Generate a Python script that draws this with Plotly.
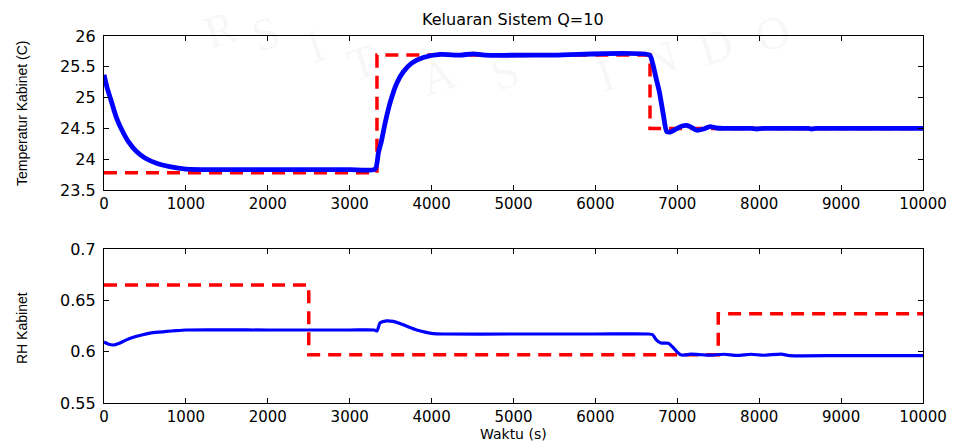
import plotly.graph_objects as go

# ---------------- data ----------------
# Top panel: temperature (setpoint = red dashed, response = blue)
sp_temp_t = [0, 3333, 6667, 10000]
sp_temp_v = [23.78, 25.69, 24.50, 24.50]

temp_t = [0, 40, 80, 150, 220, 300, 400, 500, 650, 800, 1000, 1500, 2000, 2500, 3000, 3310,
          3350, 3390, 3431, 3492, 3573, 3655, 3757, 3899, 4103, 4347, 4509, 4650, 5500, 6660,
          6700, 6740, 6780, 6830, 6870, 6910, 6960, 7010, 7060, 7114, 7170, 7237, 7320, 7399,
          7470, 7560, 7700, 7900, 7970, 8050, 8300, 8600, 8640, 8700, 9000, 10000]
temp_v = [25.37, 25.15, 24.98, 24.68, 24.47, 24.28, 24.12, 24.02, 23.93, 23.88, 23.84, 23.83, 23.83, 23.83, 23.83, 23.84,
          24.10, 24.31, 24.58, 24.91, 25.23, 25.42, 25.56, 25.65, 25.70, 25.69, 25.71, 25.69, 25.69, 25.69,
          25.55, 25.32, 25.10, 24.72, 24.45, 24.44, 24.47, 24.51, 24.54, 24.55, 24.52, 24.47, 24.49, 24.53,
          24.51, 24.50, 24.50, 24.50, 24.49, 24.50, 24.50, 24.50, 24.49, 24.50, 24.50, 24.50]

# Bottom panel: relative humidity
sp_rh_t = [0, 2500, 7500, 10000]
sp_rh_v = [0.665, 0.597, 0.637, 0.637]

rh_t = [0, 50, 114, 180, 260, 358, 460, 562, 665, 765, 880, 1000, 2000, 3000, 3300, 3335,
        3370, 3450, 3530, 3614, 3720, 3818, 3920, 4021, 4150, 5000, 6000, 6650, 6700, 6740,
        6800, 6890, 6950, 7000, 7040, 7100, 7160, 7300, 7400, 7570, 7730, 7900, 8050, 8270,
        8370, 9000, 10000]
rh_v = [0.6095, 0.6075, 0.6065, 0.6080, 0.6110, 0.6140, 0.6162, 0.6180, 0.6190, 0.6197, 0.6205, 0.6211, 0.6211, 0.6211, 0.6211, 0.6203,
        0.6280, 0.6300, 0.6295, 0.6275, 0.6240, 0.6211, 0.6190, 0.6175, 0.6172, 0.6172, 0.6172, 0.6172, 0.6165, 0.6118,
        0.6085, 0.6082, 0.6040, 0.5995, 0.5970, 0.5968, 0.5976, 0.5970, 0.5966, 0.5975, 0.5963, 0.5975, 0.5965, 0.5976,
        0.5962, 0.5962, 0.5962]

x_ticks = [0, 1000, 2000, 3000, 4000, 5000, 6000, 7000, 8000, 9000, 10000]
y1_ticks = [23.5, 24, 24.5, 25, 25.5, 26]
y1_labels = ["23.5", "24", "24.5", "25", "25.5", "26"]
y2_ticks = [0.55, 0.6, 0.65, 0.7]
y2_labels = ["0.55", "0.6", "0.65", "0.7"]

title_text = "Keluaran Sistem Q=10"
xlabel = "Waktu (s)"
y1_label = "Temperatur Kabinet (C)"
y2_label = "RH Kabinet"

# ---------------- figure ----------------
W, H = 960, 443
RED = "#ff0000"
BLUE = "#0000ff"

fig = go.Figure()
fig.add_trace(go.Scatter(x=sp_temp_t, y=sp_temp_v, mode="lines", line_shape="hv",
                         line=dict(color=RED, width=3.5, dash="13px,8px"),
                         xaxis="x", yaxis="y", showlegend=False, hoverinfo="skip"))
fig.add_trace(go.Scatter(x=temp_t, y=temp_v, mode="lines", line_shape="spline",
                         line=dict(color=BLUE, width=4.8, smoothing=0.6),
                         xaxis="x", yaxis="y", showlegend=False))
fig.add_trace(go.Scatter(x=sp_rh_t, y=sp_rh_v, mode="lines", line_shape="hv",
                         line=dict(color=RED, width=3.5, dash="13px,8px"),
                         xaxis="x2", yaxis="y2", showlegend=False, hoverinfo="skip"))
fig.add_trace(go.Scatter(x=rh_t, y=rh_v, mode="lines", line_shape="spline",
                         line=dict(color=BLUE, width=3.2, smoothing=0.6),
                         xaxis="x2", yaxis="y2", showlegend=False))

xtickfont = dict(family="DejaVu Sans", size=15, color="black")
ytickfont = dict(family="DejaVu Sans", size=16, color="black")
common_x = dict(range=[0, 10000], tickvals=x_ticks, ticktext=[str(v) for v in x_ticks],
                ticks="inside", ticklen=5, tickcolor="black", tickwidth=1,
                showline=True, linecolor="black", linewidth=1.3, mirror="allticks",
                showgrid=False, zeroline=False, tickfont=xtickfont, ticklabelstandoff=0,
                automargin=False)
common_y = dict(ticks="inside", ticklen=5, tickcolor="black", tickwidth=1,
                showline=True, linecolor="black", linewidth=1.3, mirror="allticks",
                showgrid=False, zeroline=False, tickfont=ytickfont, ticklabelstandoff=4,
                automargin=False)

px_x = lambda p: p / W
px_y = lambda p: 1 - p / H

fig.update_layout(
    width=W, height=H,
    margin=dict(l=0, r=0, t=0, b=0, pad=0, autoexpand=False),
    paper_bgcolor="white", plot_bgcolor="rgba(0,0,0,0)",
    xaxis=dict(domain=[px_x(104), px_x(923)], anchor="y", **common_x),
    yaxis=dict(domain=[px_y(190), px_y(36)], anchor="x", range=[23.5, 26],
               tickvals=y1_ticks, ticktext=y1_labels, **common_y),
    xaxis2=dict(domain=[px_x(104), px_x(923)], anchor="y2", **common_x),
    yaxis2=dict(domain=[px_y(403), px_y(249)], anchor="x2", range=[0.55, 0.7],
                tickvals=y2_ticks, ticktext=y2_labels, **common_y),
)

annotations = [
    dict(text=title_text, x=px_x(513), y=px_y(20), xref="paper", yref="paper",
         showarrow=False, font=dict(family="DejaVu Sans", size=16, color="black"),
         xanchor="center", yanchor="middle"),
    dict(text=xlabel, x=px_x(513), y=px_y(444), xref="paper", yref="paper",
         showarrow=False, font=dict(family="DejaVu Sans", size=14, color="black"),
         xanchor="center", yanchor="bottom"),
    dict(text=y1_label, x=px_x(22), y=px_y(113), xref="paper", yref="paper",
         showarrow=False, textangle=-90, font=dict(family="Liberation Sans", size=14, color="black"),
         xanchor="center", yanchor="middle"),
    dict(text=y2_label, x=px_x(22), y=px_y(328), xref="paper", yref="paper",
         showarrow=False, textangle=-90, font=dict(family="Liberation Sans", size=14, color="black"),
         xanchor="center", yanchor="middle"),
]

# faint watermark letters
wm_letters = ["R", "S", "I", "T", "A", "S", "I", "N", "D", "O"]
wm_px = [(220, 30), (266, 34), (315, 46), (362, 62), (437, 76), (505, 72), (605, 75), (660, 60), (715, 46), (772, 34)]
for ch, (xx, yy) in zip(wm_letters, wm_px):
    annotations.append(dict(text=ch, x=px_x(xx), y=px_y(yy), xref="paper", yref="paper",
                            showarrow=False, textangle=-18,
                            font=dict(family="Liberation Serif", size=46, color="rgba(0,0,0,0.05)"),
                            xanchor="center", yanchor="middle"))

fig.update_layout(annotations=annotations)

fig.write_html("out.html")
